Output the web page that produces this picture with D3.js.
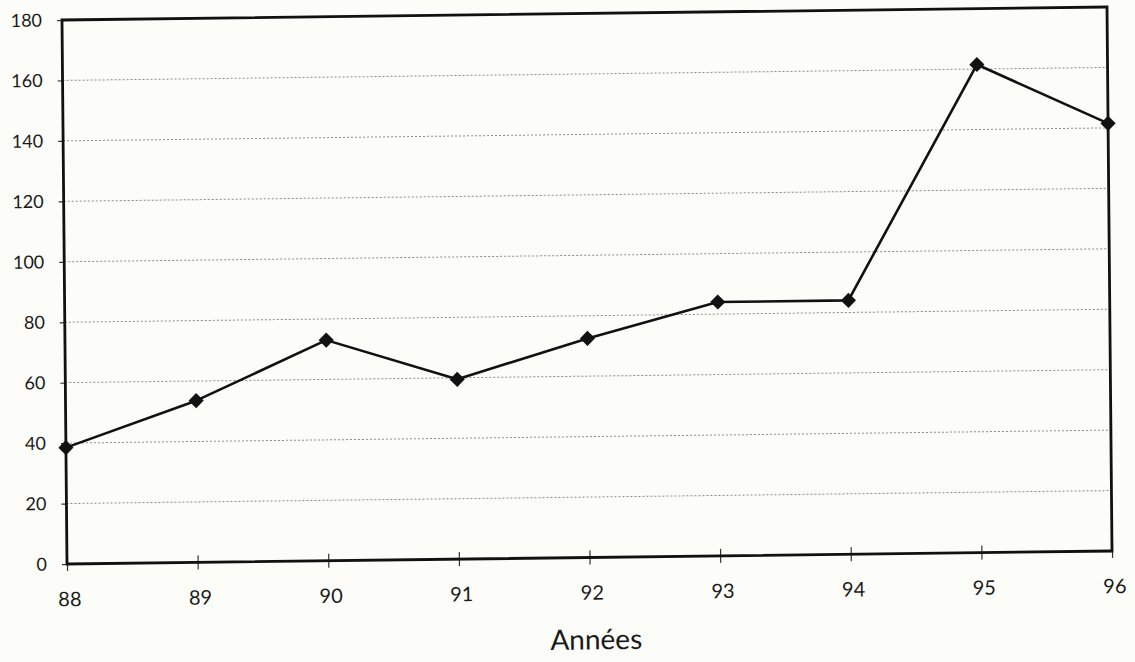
<!DOCTYPE html>
<html>
<head>
<meta charset="utf-8">
<script src="https://cdn.jsdelivr.net/npm/d3@7"></script>
<style>
  html, body { margin: 0; padding: 0; background: #fcfcf8; }
  svg { display: block; }
  text { font-family: Lato, "Noto Sans", sans-serif; fill: #1a1a1a; }
</style>
</head>
<body>
<svg id="chart" width="1135" height="662"></svg>
<script>
const years = ["88", "89", "90", "91", "92", "93", "94", "95", "96"];
const values = [38.5, 53.5, 73, 59.5, 72.5, 84, 84, 161.5, 141.5];
const yTicks = [0, 20, 40, 60, 80, 100, 120, 140, 160, 180];
const xTitle = "Années";

const W = 1045, H = 544;
const svg = d3.select("#chart");
svg.append("rect").attr("width", 1135).attr("height", 662).attr("fill", "#fcfcf8");

// slight skew/rotation, as in the scanned original
const g = svg.append("g")
  .attr("transform", "matrix(1,-0.01244,0.00919,1,62,20)");

const x = d3.scalePoint().domain(years).range([0, W]);
const y = d3.scaleLinear().domain([0, 180]).range([H, 0]);

// gridlines
g.append("g").selectAll("line")
  .data(yTicks.filter(d => d > 0 && d < 180))
  .join("line")
  .attr("x1", 0).attr("x2", W)
  .attr("y1", d => y(d)).attr("y2", d => y(d))
  .attr("stroke", "#8a8a8a").attr("stroke-width", 1)
  .attr("stroke-dasharray", "2,2");

// y axis
const yAxis = g.append("g")
  .call(d3.axisLeft(y).tickValues(yTicks).tickSize(5).tickPadding(15));
yAxis.select(".domain").remove();
yAxis.selectAll(".tick line").attr("stroke", "#333").attr("stroke-width", 1.2);
yAxis.selectAll("text").attr("font-size", 18).attr("fill", "#1a1a1a")
  .style("font-family", "Lato, 'Noto Sans', sans-serif");

// x axis
const xAxis = g.append("g")
  .attr("transform", `translate(0,${H})`)
  .call(d3.axisBottom(x).tickSize(7).tickPadding(21));
xAxis.select(".domain").remove();
xAxis.selectAll(".tick line").attr("y1", -7).attr("stroke", "#333").attr("stroke-width", 1.2);
xAxis.selectAll("text").attr("font-size", 20).attr("fill", "#1a1a1a")
  .attr("dx", 2)
  .style("font-family", "Lato, 'Noto Sans', sans-serif");

// frame
g.append("rect")
  .attr("x", 0).attr("y", 0).attr("width", W).attr("height", H)
  .attr("fill", "none").attr("stroke", "#111").attr("stroke-width", 2.8);

// line
const line = d3.line().x((d, i) => x(years[i])).y(d => y(d));
g.append("path")
  .datum(values)
  .attr("d", line)
  .attr("fill", "none").attr("stroke", "#111").attr("stroke-width", 2.6)
  .attr("stroke-linejoin", "round");

// markers (square rotated 45deg)
const square = d3.symbol().type(d3.symbolSquare).size(115);
g.append("g").selectAll("path")
  .data(values)
  .join("path")
  .attr("d", square)
  .attr("transform", (d, i) => `translate(${x(years[i])},${y(d)}) rotate(45)`)
  .attr("fill", "#111");

// axis title
g.append("text")
  .attr("x", W / 2 + 6)
  .attr("y", H + 92)
  .attr("text-anchor", "middle")
  .attr("font-size", 28)
  .text(xTitle);
</script>
</body>
</html>
